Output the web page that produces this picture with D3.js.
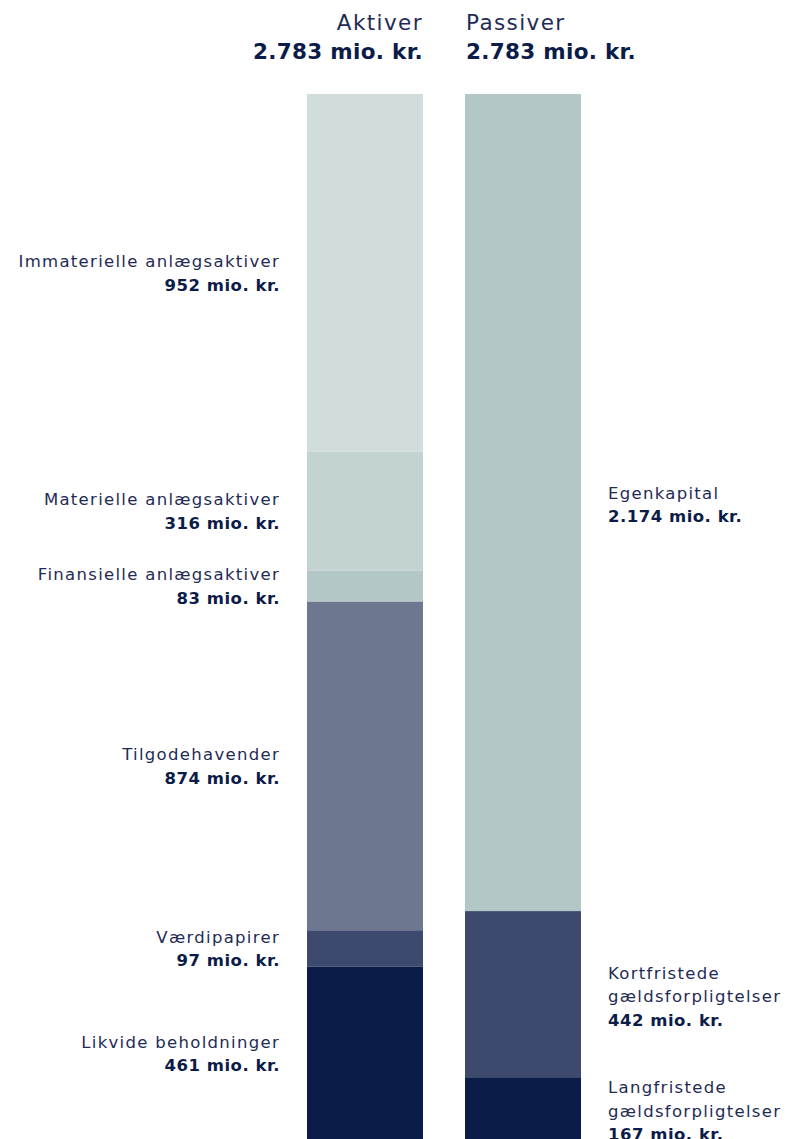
<!DOCTYPE html>
<html>
<head>
<meta charset="utf-8">
<script src="https://cdn.jsdelivr.net/npm/d3@7"></script>
<style>
  body { margin: 0; background: #fff; }
  svg { display: block; font-family: "DejaVu Sans", sans-serif; }
</style>
</head>
<body>
<svg width="787" height="1139"></svg>
<script>
// balance data (mio. kr.)
var sides = ["Aktiver", "Passiver"];
var totals = [2783, 2783];
var aktiverNames = ["Immaterielle anlægsaktiver", "Materielle anlægsaktiver", "Finansielle anlægsaktiver",
                    "Tilgodehavender", "Værdipapirer", "Likvide beholdninger"];
var aktiverValues = [952, 316, 83, 874, 97, 461];
var aktiverColors = ["#d1dddd", "#c2d3d2", "#b3c7c6", "#6d778f", "#3d4a6d", "#0c1c48"];
var passiverNames = [["Egenkapital"], ["Kortfristede", "gældsforpligtelser"], ["Langfristede", "gældsforpligtelser"]];
var passiverValues = [2174, 442, 167];
var passiverColors = ["#b3c7c6", "#3d4a6d", "#0c1c48"];

function main() {
    var svg = d3.select("svg");
    var fmt = d3.formatLocale({decimal: ",", thousands: ".", grouping: [3], currency: ["", ""]}).format(",");
    var textCol = "#1f2b55", boldCol = "#0c1c48";
    var fs = 16.5, ls = "1.3px", lsb = "0.5px";

    var x = d3.scaleBand().domain(sides).range([307, 581]).paddingInner(0.266);
    var y = d3.scaleLinear().domain([0, d3.max(totals)]).range([94, 1140]);
    var lh = 23.5;

    function stack(vals) {
        var acc = 0;
        return vals.map(function(v, i) { var s = acc; acc += v; return {i: i, y0: s, y1: acc, v: v}; });
    }

    // headers
    sides.forEach(function(s, k) {
        var left = k === 0;
        var tx = left ? x(s) + x.bandwidth() : x(s) + 1;
        var g = svg.append("g").attr("text-anchor", left ? "end" : "start");
        g.append("text").attr("x", tx).attr("y", 30).attr("font-size", 21.5).attr("letter-spacing", "1.4px")
            .attr("fill", textCol).text(s);
        g.append("text").attr("x", tx).attr("y", 59).attr("font-size", 21.5).attr("font-weight", 700)
            .attr("letter-spacing", "0.3px").attr("fill", boldCol).text(fmt(totals[k]) + " mio. kr.");
    });

    // Aktiver
    var a = stack(aktiverValues);
    svg.append("g").selectAll("rect").data(a).join("rect")
        .attr("x", x("Aktiver")).attr("width", x.bandwidth())
        .attr("y", d => y(d.y0)).attr("height", d => y(d.y1) - y(d.y0))
        .attr("fill", d => aktiverColors[d.i]);
    var al = svg.append("g").attr("text-anchor", "end");
    a.forEach(function(d) {
        var c = (y(d.y0) + y(d.y1)) / 2;
        al.append("text").attr("x", 280).attr("y", c - lh / 2 + 6).attr("font-size", fs).attr("letter-spacing", ls)
            .attr("fill", textCol).text(aktiverNames[d.i]);
        al.append("text").attr("x", 280).attr("y", c + lh / 2 + 6).attr("font-size", fs).attr("font-weight", 700)
            .attr("letter-spacing", lsb).attr("fill", boldCol).text(fmt(d.v) + " mio. kr.");
    });

    // Passiver
    var p = stack(passiverValues);
    svg.append("g").selectAll("rect").data(p).join("rect")
        .attr("x", x("Passiver")).attr("width", x.bandwidth())
        .attr("y", d => y(d.y0)).attr("height", d => y(d.y1) - y(d.y0))
        .attr("fill", d => passiverColors[d.i]);
    var pl = svg.append("g").attr("text-anchor", "start");
    p.forEach(function(d) {
        var lines = passiverNames[d.i];
        var n = lines.length + 1;
        var c = (y(d.y0) + y(d.y1)) / 2 + 2;
        var top = c - (n - 1) * lh / 2 + 6;
        lines.forEach(function(t, j) {
            pl.append("text").attr("x", 608).attr("y", top + j * lh).attr("font-size", fs).attr("letter-spacing", ls)
                .attr("fill", textCol).text(t);
        });
        pl.append("text").attr("x", 608).attr("y", top + lines.length * lh).attr("font-size", fs)
            .attr("font-weight", 700).attr("letter-spacing", lsb).attr("fill", boldCol).text(fmt(d.v) + " mio. kr.");
    });
}
main();
</script>
</body>
</html>
